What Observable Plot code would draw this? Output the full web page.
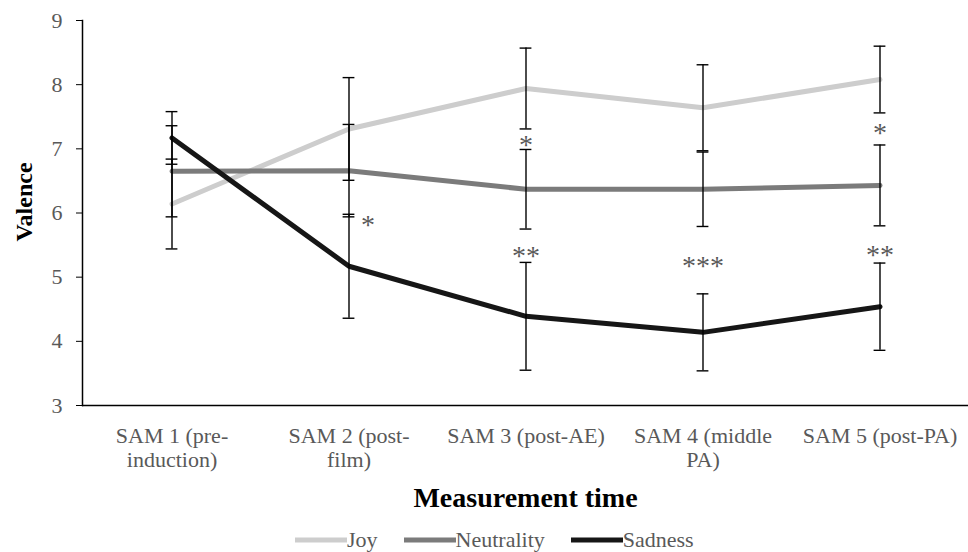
<!DOCTYPE html>
<html>
<head>
<meta charset="utf-8">
<script src="https://cdn.jsdelivr.net/npm/d3@7"></script>
<script src="https://cdn.jsdelivr.net/npm/@observablehq/plot@0.6"></script>
<style>
  html, body { margin: 0; padding: 0; background: #fff; }
  body { width: 968px; height: 552px; overflow: hidden; position: relative; font-family: "Liberation Serif", "Times New Roman", serif; }
  #chart svg, #chart svg text { font-family: "Liberation Serif", "Times New Roman", serif !important; }
  #legend { position: absolute; left: 295px; top: 526px; height: 28px; display: flex; align-items: center; font-size: 22px; color: #595959; }
  #legend .item { display: flex; align-items: center; margin-right: 26px; }
  #legend svg { display: block; }
</style>
</head>
<body>
<div id="chart"></div>
<div id="legend"></div>
<script>
// ---- Data ----
const times = ["SAM 1", "SAM 2", "SAM 3", "SAM 4", "SAM 5"];
const tickLabels = ["SAM 1 (pre-\ninduction)", "SAM 2 (post-\nfilm)", "SAM 3 (post-AE)", "SAM 4 (middle\nPA)", "SAM 5 (post-PA)"];
const yTicks = [3, 4, 5, 6, 7, 8, 9];

const seriesNames = ["Joy", "Neutrality", "Sadness"];
const seriesColors = ["#cdcdcd", "#7b7b7b", "#161616"];

const joy = [6.14, 7.31, 7.94, 7.64, 8.08];
const joyErr = [0.70, 0.80, 0.63, 0.67, 0.52];
const neutrality = [6.65, 6.66, 6.37, 6.37, 6.43];
const neutralityErr = [0.71, 0.72, 0.62, 0.58, 0.63];
const sadness = [7.17, 5.17, 4.39, 4.14, 4.54];
const sadnessErr = [0.41, 0.81, 0.84, 0.60, 0.68];

// significance markers (time, valence level, label, beside the bar or centred on it)
const starTimes = ["SAM 2", "SAM 3", "SAM 3", "SAM 4", "SAM 5", "SAM 5"];
const starLevels = [5.91, 7.16, 5.42, 5.27, 7.34, 5.44];
const starLabels = ["*", "*", "**", "***", "*", "**"];
const starBeside = [true, false, false, false, false, false];

// ---- Build tables ----
const seriesValues = [joy, neutrality, sadness];
const seriesErrs = [joyErr, neutralityErr, sadnessErr];
const rows = seriesNames.flatMap((s, si) => times.map((t, i) => ({
  series: s, time: t, value: seriesValues[si][i],
  lo: seriesValues[si][i] - seriesErrs[si][i],
  hi: seriesValues[si][i] + seriesErrs[si][i]
})));
const stars = starTimes.map((t, i) => ({time: t, level: starLevels[i], label: starLabels[i], beside: starBeside[i]}));

// ---- Layout ----
const W = 968, H = 524;
const mL = 82, mT = 20, mB = H - 405;
const bw = (W - mL) / times.length;
const capInset = (bw - 12) / 2;
const txt = "#595959";
const serif = "Liberation Serif";

const chart = Plot.plot({
  width: W, height: H,
  marginLeft: mL, marginRight: 0, marginTop: mT, marginBottom: mB,
  style: {fontFamily: "'Liberation Serif', 'Times New Roman', serif", background: "#fff", overflow: "visible"},
  x: {type: "band", domain: times, padding: 0},
  y: {domain: [3, 9]},
  color: {domain: seriesNames, range: seriesColors},
  marks: [
    Plot.ruleY([3], {stroke: "#000", strokeWidth: 1.5}),
    Plot.frame({anchor: "left", stroke: "#000", strokeWidth: 1.5}),
    Plot.axisY({ticks: yTicks, tickFormat: d => String(d), tickSize: 6, tickPadding: 14, fontSize: 22, fontFamily: serif, fill: txt, stroke: "#000", label: null}),
    Plot.axisX({tickSize: 0, tickPadding: 20, fontSize: 22, fontFamily: serif, fill: txt, lineHeight: 1.1,
      tickFormat: d => tickLabels[times.indexOf(d)], label: null}),
    Plot.line(rows, {x: "time", y: "value", z: "series", stroke: "series", strokeWidth: 5}),
    Plot.ruleX(rows, {x: "time", y1: "lo", y2: "hi", stroke: "#000", strokeWidth: 1.4}),
    Plot.tickY(rows, {x: "time", y: "lo", insetLeft: capInset, insetRight: capInset, stroke: "#000", strokeWidth: 1.4}),
    Plot.tickY(rows, {x: "time", y: "hi", insetLeft: capInset, insetRight: capInset, stroke: "#000", strokeWidth: 1.4}),
    Plot.text(stars.filter(d => !d.beside), {x: "time", y: "level", text: "label", fontSize: 28, fontFamily: serif, fill: txt, dy: 6}),
    Plot.text(stars.filter(d => d.beside), {x: "time", y: "level", text: "label", fontSize: 28, fontFamily: serif, fill: txt, dy: 6, dx: 19}),
    Plot.text(["Valence"], {frameAnchor: "left", textAnchor: "middle", rotate: -90, dx: -58, dy: -11, fontSize: 24, fontFamily: serif, fontWeight: "bold", fill: "#000"}),
    Plot.text(["Measurement time"], {frameAnchor: "bottom", dy: 101, fontSize: 28, fontFamily: serif, fontWeight: "bold", fill: "#000"})
  ]
});
document.getElementById("chart").append(chart);

// ---- Legend ----
const legend = d3.select("#legend");
seriesNames.forEach((name, i) => {
  const item = legend.append("span").attr("class", "item");
  const sw = item.append("svg").attr("width", 52).attr("height", 10);
  sw.append("line").attr("x1", 0).attr("x2", 52).attr("y1", 5).attr("y2", 5)
    .attr("stroke", seriesColors[i]).attr("stroke-width", 5);
  item.append("span").text(name);
});
</script>
</body>
</html>
